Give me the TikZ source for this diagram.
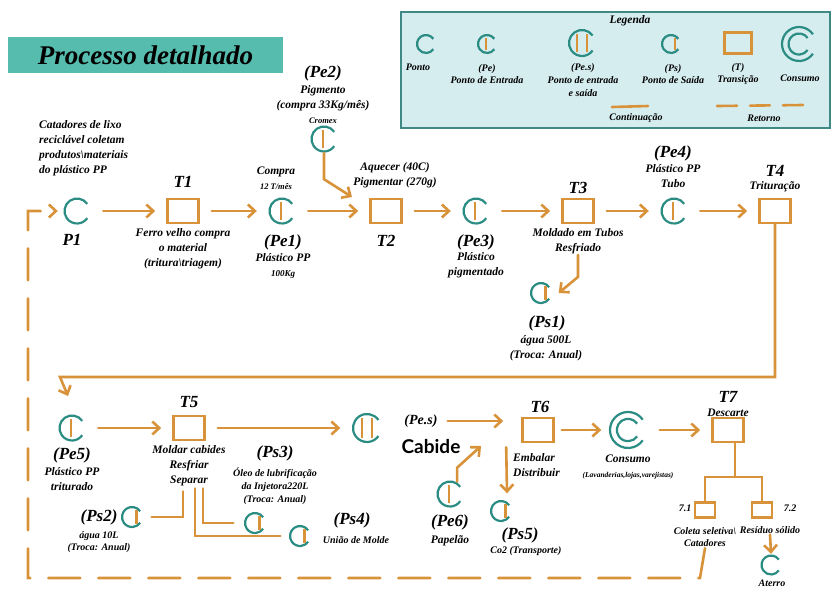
\documentclass[tikz,border=0pt]{standalone}
\usepackage{fontspec}
\setmainfont{Liberation Serif}
\newfontfamily\cabidefont{Lato}
\usetikzlibrary{arrows.meta}

\definecolor{verde}{HTML}{2A8C82}
\definecolor{laranja}{HTML}{D8923A}
\definecolor{faixa}{HTML}{55BCAE}
\definecolor{legfundo}{HTML}{D6EDF0}
\definecolor{legborda}{HTML}{3F8A84}

% anel aberto e barra de entrada/saida
\newcommand{\anel}[1]{\draw[verde,line width=2.2pt] ([shift={(35:#1)}]path picture bounding box.center) arc[start angle=35,end angle=325,radius=#1];}
\newcommand{\barra}[2]{\draw[laranja,line width=2.2pt] ([shift={(#1,-0.72*#2)}]path picture bounding box.center) -- ++(0,1.44*#2);}

\tikzset{
  ponto/.style={circle,inner sep=0pt,minimum size=2*#1+3pt,path picture={\anel{#1}}},
  ponto/.default=12.5pt,
  entrada/.style={ponto=#1,path picture={\anel{#1}\barra{-0.1*#1}{#1}}},
  entrada/.default=12.5pt,
  saida/.style={ponto=#1,path picture={\anel{#1}\barra{0.45*#1}{#1}}},
  saida/.default=10pt,
  entradasaida/.style={ponto=#1,path picture={\anel{#1}\barra{-0.38*#1}{#1}\barra{0.38*#1}{#1}}},
  consumo/.style={circle,inner sep=0pt,minimum size=2*#1+3pt,path picture={\anel{#1}\anel{0.62*#1}}},
}

\begin{document}
\begin{tikzpicture}[x=1pt,y=-1pt,
  linha/.style={laranja,line width=2.6pt,line cap=round},
  seta/.style={linha,-{Straight Barb[length=7pt,width=13pt]}},
  fluxo/.style={seta,shorten <=12pt,shorten >=11pt},
  retorno/.style={seta,dash pattern=on 32pt off 18pt},
  transicao/.style={draw=laranja,line width=2.6pt,inner sep=0pt,minimum width=31pt,minimum height=24pt},
  rotulo/.style={font=\bfseries\itshape\fontsize{11.5}{15}\selectfont,align=center,inner sep=1pt},
  miudo/.style={font=\bfseries\itshape\fontsize{10}{12.8}\selectfont,align=center,inner sep=1pt},
  nome/.style={font=\bfseries\itshape\fontsize{17}{18}\selectfont,inner sep=1pt}]

\useasboundingbox (0,0) rectangle (833,590);

% titulo
\node[fill=faixa,minimum width=275pt,minimum height=36pt,
      font=\bfseries\itshape\fontsize{27}{28}\selectfont] (titulo) at (145.5,55) {Processo detalhado};

% legenda
\node[draw=legborda,fill=legfundo,line width=2.5pt,minimum width=429pt,minimum height=116pt] (leg) at (615.5,70) {};
\node[miudo,font=\bfseries\itshape\fontsize{11.5}{12}\selectfont] (legtit) at (630,21) {Legenda};
\node[ponto=9pt] (lponto) at (426,44) {};
\node[entrada=9pt] (lentrada) at (487,44) {};
\node[entradasaida=13pt] (lentsai) at (582,43) {};
\node[saida=9pt] (lsaida) at (671,44) {};
\node[transicao,minimum width=27pt,minimum height=21pt] (ltrans) at (738,43) {};
\node[consumo=17pt] (lconsumo) at (799,44) {};
\node[miudo] (lpontotxt) at (418,67) {Ponto};
\node[miudo] (lentradatxt) at (487,74) {(Pe)\\Ponto de Entrada};
\node[miudo] (lentsaitxt) at (583,80) {(Pe.s)\\Ponto de entrada\\e saída};
\node[miudo] (lsaidatxt) at (673,74) {(Ps)\\Ponto de Saída};
\node[miudo] (ltranstxt) at (738,74) {(T)\\Transição};
\node[miudo] (lconsumotxt) at (800,78) {Consumo};
\coordinate (lc1) at (612,107);
\coordinate (lc2) at (648,106);
\draw[linha] (lc1) -- (lc2);
\node[miudo] (lconttxt) at (636,118) {Continuação};
\coordinate (lr1) at (717,106);
\coordinate (lr2) at (803,105);
\draw[linha,dash pattern=on 20pt off 13pt] (lr1) -- (lr2);
\node[miudo] (lrettxt) at (764,118) {Retorno};

% linha 1
\node[ponto] (p1) at (77,211) {};
\node[rotulo,align=left,anchor=north west] (p1txt) at (38,119) {Catadores de lixo\\reciclável coletam\\ produtos\textbackslash materiais\\do plástico PP};
\node[nome] (p1nome) at (72,240) {P1};

\node[transicao] (t1) at (183,211) {};
\node[nome] (t1nome) at (183,182) {T1};
\node[rotulo] (t1txt) at (183,249) {Ferro velho compra\\o material\\(tritura\textbackslash triagem)};

\node[entrada] (pe1) at (282,211) {};
\node[rotulo] (pe1txt) at (276,178) {Compra\\{\fontsize{8.5}{9}\selectfont 12 T/mês}};
\node[nome] (pe1nome) at (283,242) {(Pe1)};
\node[rotulo] (pe1info) at (283,266) {Plástico PP\\{\fontsize{9}{9}\selectfont 100Kg}};

\node[entrada] (pe2) at (324,139) {};
\node[nome] (pe2nome) at (323,73) {(Pe2)};
\node[rotulo] (pe2txt) at (323,105) {Pigmento\\(compra 33Kg/mês)\\{\fontsize{8.5}{9}\selectfont Cromex}};

\node[transicao] (t2) at (386,211) {};
\node[nome] (t2nome) at (386,241) {T2};
\node[rotulo] (t2txt) at (395,175) {Aquecer (40C)\\Pigmentar (270g)};

\node[entrada] (pe3) at (476,211) {};
\node[nome] (pe3nome) at (476,242) {(Pe3)};
\node[rotulo] (pe3txt) at (476,265) {Plástico\\pigmentado};

\node[transicao] (t3) at (578,211) {};
\node[nome] (t3nome) at (578,188) {T3};
\node[rotulo] (t3txt) at (578,241) {Moldado em Tubos\\Resfriado};

\node[saida] (ps1) at (541,293) {};
\node[nome] (ps1nome) at (547,323) {(Ps1)};
\node[rotulo] (ps1txt) at (546,348) {água 500L\\(Troca: Anual)};

\node[entrada] (pe4) at (674,211) {};
\node[nome] (pe4nome) at (673,153) {(Pe4)};
\node[rotulo] (pe4txt) at (673,176) {Plástico PP\\Tubo};

\node[transicao] (t4) at (775,211) {};
\node[nome] (t4nome) at (775,171) {T4};
\node[rotulo] (t4txt) at (775,187) {Trituração};

\draw[fluxo] (p1) -- (t1);
\draw[fluxo] (t1) -- (pe1);
\draw[fluxo] (pe1) -- (t2);
\draw[fluxo] (t2) -- (pe3);
\draw[fluxo] (pe3) -- (t3);
\draw[fluxo] (t3) -- (pe4);
\draw[fluxo] (pe4) -- (t4);
\coordinate (c2t2) at (352,197);
\draw[seta] (pe2.south) -- ++(0,26) -- (c2t2);
\draw[seta] (t3txt.south) -- ++(0,22) -- ([xshift=6pt]ps1.east);

% continuacao para a linha 2
\coordinate (v1) at (60,377);
\coordinate (v2) at (68,396);
\draw[seta] (t4.south) |- (v1) -- (v2);

% linha 2
\node[entrada] (pe5) at (72,428) {};
\node[nome] (pe5nome) at (72,455) {(Pe5)};
\node[rotulo] (pe5txt) at (72,479) {Plástico PP\\triturado};

\node[transicao] (t5) at (189,428) {};
\node[nome] (t5nome) at (189,402) {T5};
\node[rotulo] (t5txt) at (189,466) {Moldar cabides\\Resfriar\\Separar};

\node[saida] (ps2) at (132,517) {};
\node[nome] (ps2nome) at (99,517) {(Ps2)};
\node[miudo] (ps2txt) at (99,542) {água 10L\\(Troca: Anual)};

\node[saida] (ps3) at (255,523) {};
\node[nome] (ps3nome) at (275,453) {(Ps3)};
\node[miudo] (ps3txt) at (275,486) {Óleo de lubrificação\\da Injetora220L\\(Troca: Anual)};

\node[saida] (ps4) at (300,536) {};
\node[nome] (ps4nome) at (352,520) {(Ps4)};
\node[miudo] (ps4txt) at (356,540) {União de Molde};

\node[entradasaida=14pt] (pes) at (367,428) {};
\node[nome,font=\bfseries\itshape\fontsize{14}{15}\selectfont] (pesnome) at (421,421) {(Pe.s)};
\node[font=\cabidefont\bfseries\fontsize{19}{22}\selectfont] (cabide) at (431,447) {Cabide};

\node[transicao] (t6) at (538,430) {};
\node[nome] (t6nome) at (540,407) {T6};
\node[rotulo,align=left,anchor=west] (t6txt) at (512,465) {Embalar\\Distribuir};

\node[entrada] (pe6) at (450,494) {};
\node[nome] (pe6nome) at (450,522) {(Pe6)};
\node[rotulo] (pe6txt) at (450,541) {Papelão};

\node[saida] (ps5) at (501,511) {};
\node[nome] (ps5nome) at (520,535) {(Ps5)};
\node[miudo] (ps5txt) at (526,551) {Co2 (Transporte)};

\node[consumo=18pt] (cons) at (628,430) {};
\node[rotulo] (constxt) at (628,459) {Consumo};
\node[font=\bfseries\itshape\fontsize{7.5}{8}\selectfont] (consinfo) at (628,476) {(Lavanderias,lojas,varejistas)};

\node[transicao] (t7) at (728,430) {};
\node[nome] (t7nome) at (728,397) {T7};
\node[rotulo] (t7txt) at (728,413) {Descarte};

\node[transicao,minimum width=20pt,minimum height=15pt] (t71) at (705,510) {};
\node[transicao,minimum width=20pt,minimum height=15pt] (t72) at (762,510) {};
\node[miudo] (t71nome) at (685,508) {7.1};
\node[miudo] (t72nome) at (790,508) {7.2};
\node[miudo] (t71txt) at (705,537) {Coleta seletiva\textbackslash\\Catadores};
\node[miudo] (t72txt) at (770,530) {Resíduo sólido};

\node[ponto=9.5pt] (aterro) at (771,565) {};
\node[miudo] (aterrotxt) at (772,583) {Aterro};

\draw[fluxo] (pe5) -- (t5);
\draw[fluxo] (t5) -- (pes);
\draw[seta,shorten <=9pt,shorten >=18pt] (pesnome.east) -- (pesnome.east -| t6.west);
\draw[fluxo,shorten <=7pt,shorten >=7pt] (t6) -- (cons);
\draw[fluxo] (cons) -- (t7);
\coordinate (c6) at (481,446);
\draw[seta] (pe6.60) -- ++(0,-14) -- (c6);
\draw[seta] ([xshift=-15pt,yshift=-4pt]t6.south west) -- ([xshift=6pt,yshift=6pt]ps5.north);

% saidas de T5
\draw[linha,shorten >=8pt] ([xshift=-6pt,yshift=-4pt]t5txt.south) |- (ps2);
\draw[linha,shorten >=10pt] ([xshift=14pt,yshift=-1pt]t5txt.south) |- (ps3);
\draw[linha,shorten >=8pt] ([xshift=6pt,yshift=-1pt]t5txt.south) |- (ps4);

% descarte
\coordinate (ramo) at (735,477);
\draw[linha] ([xshift=7pt]t7.south) -- (ramo);
\draw[linha] (t71.north) |- (ramo) -| (t72.north);
\draw[seta] (t72txt.south) -- (aterro.north);

% retorno
\coordinate (r1) at (700,578);
\coordinate (r2) at (28,578);
\coordinate (r3) at (28,211);
\draw[retorno,shorten >=5pt] (t71txt.south) -- (r1) -- (r2) -- (r3) -- (p1);

\end{tikzpicture}
\end{document}
